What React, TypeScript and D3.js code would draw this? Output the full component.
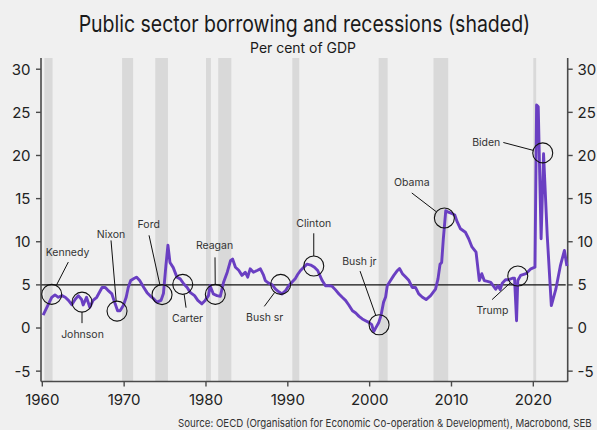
import React, { useLayoutEffect, useRef, useState } from "react";
import * as d3 from "d3";

const W = 597;
const H = 430;

// Public sector borrowing, % of GDP
const years: number[] = [
  1960.1, 1961.15, 1961.55, 1961.96, 1962.4, 1962.8, 1963.2, 1963.6, 1964.0, 1964.4,
  1964.8, 1965.0, 1965.4, 1965.8, 1966.2, 1966.65, 1967.3, 1967.7, 1968.1, 1968.5,
  1968.9, 1969.2, 1969.5, 1969.9, 1970.25, 1970.5, 1970.8, 1971.15, 1971.5, 1971.9,
  1972.4, 1972.8, 1973.2, 1973.6, 1974.0, 1974.5, 1974.8, 1975.1, 1975.35, 1975.6,
  1976.0, 1976.45, 1976.85, 1977.3, 1977.7, 1978.1, 1978.6, 1979.0, 1979.5, 1979.9,
  1980.3, 1980.5, 1980.9, 1981.35, 1981.75, 1982.15, 1982.6, 1983.0, 1983.25, 1983.6,
  1984.0, 1984.4, 1984.8, 1985.1, 1985.4, 1985.8, 1986.25, 1986.65, 1987.0, 1987.25,
  1987.65, 1988.1, 1988.5, 1988.9, 1989.3, 1989.7, 1990.1, 1990.5, 1990.9, 1991.2,
  1991.55, 1991.95, 1992.35, 1992.8, 1993.25, 1993.65, 1994.2, 1994.6, 1995.0, 1995.4,
  1995.8, 1996.25, 1996.65, 1997.05, 1997.45, 1997.9, 1998.3, 1998.7, 1999.1, 1999.5,
  1999.9, 2000.25, 2000.5, 2000.8, 2001.1, 2001.4, 2001.7, 2001.95, 2002.15, 2002.55,
  2002.95, 2003.4, 2003.65, 2004.0, 2004.4, 2004.8, 2005.2, 2005.6, 2006.0, 2006.45,
  2006.9, 2007.45, 2008.05, 2008.35, 2008.6, 2008.8, 2009.0, 2009.3, 2009.7, 2010.1,
  2010.4, 2010.7, 2011.1, 2011.7, 2012.1, 2012.5, 2013.0, 2013.4, 2013.7, 2014.0,
  2014.4, 2014.8, 2015.4, 2015.7, 2015.95, 2016.2, 2016.6, 2017.0, 2017.45, 2017.7,
  2017.95, 2018.1, 2018.45, 2019.1, 2019.7, 2020.2, 2020.4, 2020.6, 2020.95, 2021.25,
  2021.7, 2022.2, 2022.75, 2023.3, 2023.8, 2024.1,
];
const borrowing: number[] = [
  1.5, 3.56, 3.84, 3.56, 3.75, 3.56, 3.2, 2.7, 3.3, 3.75,
  3.3, 2.67, 3.56, 2.4, 3.2, 3.56, 4.7, 4.7, 4.3, 3.95,
  2.8, 2.0, 2.0, 2.6, 3.56, 4.7, 5.5, 5.7, 5.9, 5.5,
  4.7, 4.1, 3.7, 3.4, 3.0, 3.2, 4.0, 7.2, 9.6, 7.6,
  7.0, 5.9, 5.7, 5.1, 4.7, 4.1, 3.75, 3.2, 2.8, 3.2,
  3.75, 4.9, 3.95, 3.75, 3.67, 5.3, 6.47, 7.8, 8.0, 7.05,
  6.7, 6.1, 6.47, 5.9, 6.86, 6.47, 6.67, 6.86, 6.2, 5.5,
  5.2, 5.0, 4.5, 4.2, 3.95, 4.3, 4.9, 5.3, 5.7, 6.2,
  6.67, 7.05, 7.4, 7.3, 7.05, 6.67, 5.5, 4.9, 4.9, 4.85,
  4.45, 3.95, 3.56, 3.2, 2.67, 2.0, 1.74, 1.35, 1.05, 0.85,
  0.65, 0.4, -0.4, 0.1, 0.6, 1.5, 3.0, 3.6, 4.9, 5.5,
  6.1, 6.67, 6.9, 6.3, 5.9, 5.5, 4.7, 4.7, 3.95, 3.56,
  3.3, 3.75, 4.5, 5.7, 7.4, 7.6, 10.3, 13.6, 13.4, 13.25,
  13.1, 12.3, 11.5, 11.1, 10.35, 9.4, 8.8, 5.5, 6.3, 5.5,
  5.4, 5.3, 4.5, 4.9, 4.45, 5.2, 5.6, 5.6, 5.77, 5.77,
  0.85, 5.5, 6.1, 6.3, 6.86, 7.05, 25.85, 25.65, 10.35, 20.2,
  10.7, 2.6, 4.5, 7.2, 9.0, 7.2,
];

// Recessions (shaded)
const recessionStart: number[] = [1960.25, 1969.75, 1973.8, 1980.0, 1981.5, 1990.55, 2001.1, 2007.8, 2020.0];
const recessionEnd: number[] = [1961.25, 1971.1, 1975.35, 1980.6, 1983.1, 1991.4, 2002.2, 2009.6, 2020.35];

// Presidents annotation points (year, value)
const presidents: string[] = ["Kennedy", "Johnson", "Nixon", "Ford", "Carter", "Reagan", "Bush sr", "Clinton", "Bush jr", "Obama", "Biden", "Trump"];
const presYear: number[] = [1961.15, 1964.85, 1969.13, 1974.63, 1977.16, 1981.14, 1989.13, 1993.17, 2001.15, 2009.13, 2021.15, 2018.1];
const presValue: number[] = [3.9, 3.0, 1.96, 3.87, 5.06, 3.9, 5.06, 7.19, 0.38, 12.76, 20.3, 6.03];

const yTicks: number[] = [-5, 0, 5, 10, 15, 20, 25, 30];
const xTicks: number[] = [1960, 1970, 1980, 1990, 2000, 2010, 2020];

// layout: label offsets and leader far-point offsets relative to circle centre
const labelOffset: [number, number][] = [
  [15.8, -42], [0.5, 32.3], [-6, -76.4], [-13.3, -70], [4.8, 34.3], [-0.8, -49],
  [-16, 33.3], [0, -42.4], [-19.8, -63.3], [-32.6, -36], [-56.5, -11], [-25.4, 34.3],
];
const leaderOffset: [number, number][] = [
  [16.6, -32.3], [0, 21], [-6, -70.7], [-13, -59.3], [3.3, 23.3], [-0.3, -37],
  [-16.4, 22], [0, -32.7], [-19, -53.6], [-32.6, -25], [-39.4, -10.4], [-25.7, 23.6],
];

const FONT = "Inter, 'DejaVu Sans', sans-serif";

function FitText(props: {
  x: number;
  y: number;
  width: number;
  anchor: "start" | "middle" | "end";
  fontSize: number;
  fill: string;
  children: string;
}) {
  const ref = useRef<SVGTextElement>(null);
  const [s, setS] = useState(1);
  useLayoutEffect(() => {
    if (ref.current) {
      const w = ref.current.getComputedTextLength();
      if (w > 0) setS(props.width / w);
    }
  }, [props.width, props.children]);
  return (
    <g transform={`translate(${props.x},${props.y}) scale(${s},1)`}>
      <text ref={ref} x={0} y={0} textAnchor={props.anchor} fontFamily={FONT} fontSize={props.fontSize} fill={props.fill}>
        {props.children}
      </text>
    </g>
  );
}

export default function App() {
  const left = 41;
  const right = 567.7;
  const top = 58;
  const bottom = 381.5;
  const x = d3.scaleLinear().domain([1959.84, 2024.2]).range([left, right]);
  const y = d3.scaleLinear().domain([-6.2, 31.3]).range([bottom, top]);

  const data = years.map((t, i) => ({ t, v: borrowing[i] }));
  const line = d3
    .line<{ t: number; v: number }>()
    .x((d) => x(d.t))
    .y((d) => y(d.v));

  const R = 10;
  const axisColor = "#4a4a4a";

  return (
    <svg
      width={W}
      height={H}
      viewBox={`0 0 ${W} ${H}`}
      style={{ position: "absolute", left: 0, top: 0, display: "block" }}
    >
      <rect x={0} y={0} width={W} height={H} fill="#f0f0f0" />
      <FitText x={304.4} y={31.7} width={452} anchor="middle" fontSize={23} fill="#1a1a1a">
        Public sector borrowing and recessions (shaded)
      </FitText>
      <FitText x={303} y={52.7} width={106} anchor="middle" fontSize={14} fill="#1a1a1a">
        Per cent of GDP
      </FitText>

      {recessionStart.map((s, i) => (
        <rect key={"r" + i} x={x(s)} y={top} width={x(recessionEnd[i]) - x(s)} height={bottom - top} fill="#d9d9d9" />
      ))}

      {/* reference line at 5 */}
      <line x1={left} x2={right - 2} y1={y(5)} y2={y(5)} stroke="#111" strokeWidth={1.3} />

      {/* axes */}
      <line x1={left} x2={left} y1={top} y2={bottom} stroke={axisColor} strokeWidth={1.6} />
      <line x1={right} x2={right} y1={top} y2={bottom} stroke={axisColor} strokeWidth={1.6} />
      <line x1={left} x2={right} y1={bottom} y2={bottom} stroke={axisColor} strokeWidth={1.6} />
      {yTicks.map((t) => (
        <g key={"y" + t}>
          <line x1={left - 5} x2={left} y1={y(t)} y2={y(t)} stroke={axisColor} strokeWidth={1.4} />
          <line x1={right} x2={right + 5} y1={y(t)} y2={y(t)} stroke={axisColor} strokeWidth={1.4} />
          <text x={30.5} y={y(t)} dy="0.36em" textAnchor="end" fontFamily={FONT} fontSize={15} fill="#222">
            {t}
          </text>
          <text x={577.5} y={y(t)} dy="0.36em" textAnchor="start" fontFamily={FONT} fontSize={15} fill="#222">
            {t}
          </text>
        </g>
      ))}
      {xTicks.map((t) => (
        <g key={"x" + t}>
          <line x1={x(t)} x2={x(t)} y1={bottom} y2={bottom + 5} stroke={axisColor} strokeWidth={1.4} />
          <text x={x(t)} y={405} textAnchor="middle" fontFamily={FONT} fontSize={15} fill="#222">
            {t}
          </text>
        </g>
      ))}

      {/* series */}
      <path d={line(data) || ""} fill="none" stroke="#6a3fc2" strokeWidth={2.9} strokeLinejoin="round" />

      {/* annotations */}
      {presidents.map((name, i) => {
        const cx = x(presYear[i]);
        const cy = y(presValue[i]);
        const [lx, ly] = leaderOffset[i];
        const len = Math.hypot(lx, ly);
        const ex = cx + (lx / len) * R;
        const ey = cy + (ly / len) * R;
        const [tx, ty] = labelOffset[i];
        return (
          <g key={"p" + i}>
            <circle cx={cx} cy={cy} r={R} fill="none" stroke="#111" strokeWidth={1.1} />
            <line x1={cx + lx} y1={cy + ly} x2={ex} y2={ey} stroke="#111" strokeWidth={1} />
            <text x={cx + tx} y={cy + ty} dy="0.36em" textAnchor="middle" fontFamily={FONT} fontSize={10.5} fill="#333">
              {name}
            </text>
          </g>
        );
      })}

      <FitText x={591.7} y={427} width={414} anchor="end" fontSize={11} fill="#333">
        Source: OECD (Organisation for Economic Co-operation &amp; Development), Macrobond, SEB
      </FitText>
    </svg>
  );
}
